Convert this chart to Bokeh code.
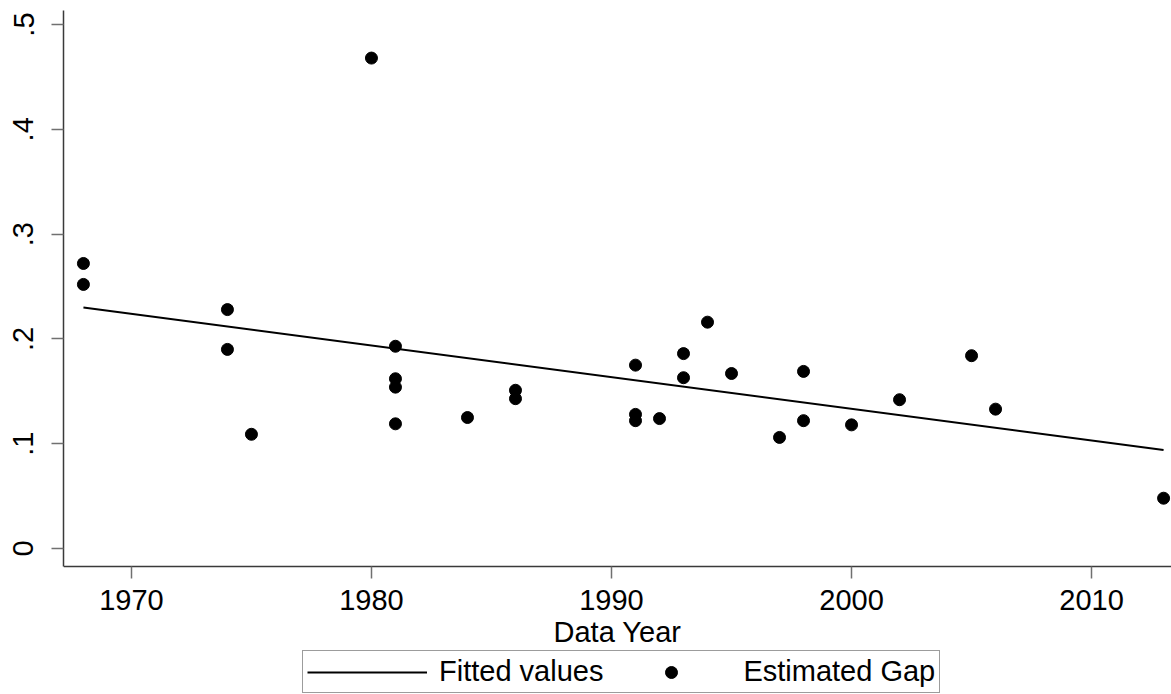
from bokeh.plotting import figure
from bokeh.models import Range1d, FixedTicker, Legend, LegendItem
from bokeh.embed import file_html
from bokeh.resources import INLINE

# ---- data ----
years = [1968, 1968, 1974, 1974, 1975, 1980, 1981, 1981, 1981, 1981,
         1984, 1986, 1986, 1991, 1991, 1991, 1992, 1993, 1993, 1994,
         1995, 1997, 1998, 1998, 2000, 2002, 2005, 2006, 2013]
gap = [0.272, 0.252, 0.228, 0.190, 0.109, 0.468, 0.193, 0.162, 0.154, 0.119,
       0.125, 0.151, 0.143, 0.175, 0.128, 0.122, 0.124, 0.186, 0.163, 0.216,
       0.167, 0.106, 0.169, 0.122, 0.118, 0.142, 0.184, 0.133, 0.048]
fit_years = [1968, 2013]
fit_values = [0.230, 0.094]

x_ticks = [1970, 1980, 1990, 2000, 2010]
y_ticks = [0, 0.1, 0.2, 0.3, 0.4, 0.5]
y_tick_labels = ["0", ".1", ".2", ".3", ".4", ".5"]

FONT = "Liberation Sans"
FS = "29px"

Y_AXIS_BOTTOM = -0.0172
Y_AXIS_TOP = 0.5134

# the frame runs down to the bottom of the canvas so that the legend can sit
# inside it; the x axis is pinned at the bottom of the data area
p = figure(width=1171, height=694, output_backend="svg", toolbar_location=None,
           x_range=Range1d(1967.17, 2013.33), y_range=Range1d(-0.1393, Y_AXIS_TOP),
           min_border_top=10, min_border_bottom=0, min_border_left=63, min_border_right=0)
p.outline_line_color = None
p.xgrid.visible = False
p.ygrid.visible = False
p.background_fill_color = "white"
p.border_fill_color = "white"

r_line = p.line(fit_years, fit_values, line_color="black", line_width=2)
r_pts = p.scatter(years, gap, size=12, fill_color="black", line_color="black", marker="circle")

for ax in (p.xaxis[0], p.yaxis[0]):
    ax.axis_line_color = "#3a3a3a"
    ax.axis_line_width = 1.5
    ax.major_tick_line_color = "#707070"
    ax.major_tick_line_width = 1.5
    ax.major_tick_in = 0
    ax.major_tick_out = 12
    ax.minor_tick_line_color = None
    ax.major_label_text_font = FONT
    ax.major_label_text_font_size = FS
    ax.major_label_text_color = "black"

p.xaxis.ticker = FixedTicker(ticks=x_ticks)
p.xaxis.fixed_location = Y_AXIS_BOTTOM
p.xaxis.major_label_standoff = 11
p.xaxis.axis_label = "Data Year"
p.xaxis.axis_label_text_font = FONT
p.xaxis.axis_label_text_font_size = FS
p.xaxis.axis_label_text_font_style = "normal"
p.xaxis.axis_label_text_color = "black"
p.xaxis.axis_label_standoff = 3

p.yaxis.ticker = FixedTicker(ticks=y_ticks)
p.yaxis.bounds = (Y_AXIS_BOTTOM, Y_AXIS_TOP)
p.yaxis.major_label_overrides = {t: l for t, l in zip(y_ticks, y_tick_labels)}
p.yaxis.major_label_orientation = "vertical"
p.yaxis.major_label_standoff = 18

legend = Legend(items=[LegendItem(label="Fitted values", renderers=[r_line]),
                       LegendItem(label="Estimated Gap", renderers=[r_pts])],
                orientation="horizontal", location=(239, 1))
legend.label_text_font = FONT
legend.label_text_font_size = FS
legend.label_text_color = "black"
legend.glyph_width = 120
legend.glyph_height = 30
legend.label_height = 30
legend.label_standoff = 12
legend.spacing = 8
legend.padding = 4
legend.margin = 0
legend.border_line_color = "#3a3a3a"
legend.border_line_width = 1.5
legend.background_fill_color = "white"
legend.background_fill_alpha = 1.0
p.add_layout(legend, "center")

open("out.html", "w").write(file_html(p, INLINE))
